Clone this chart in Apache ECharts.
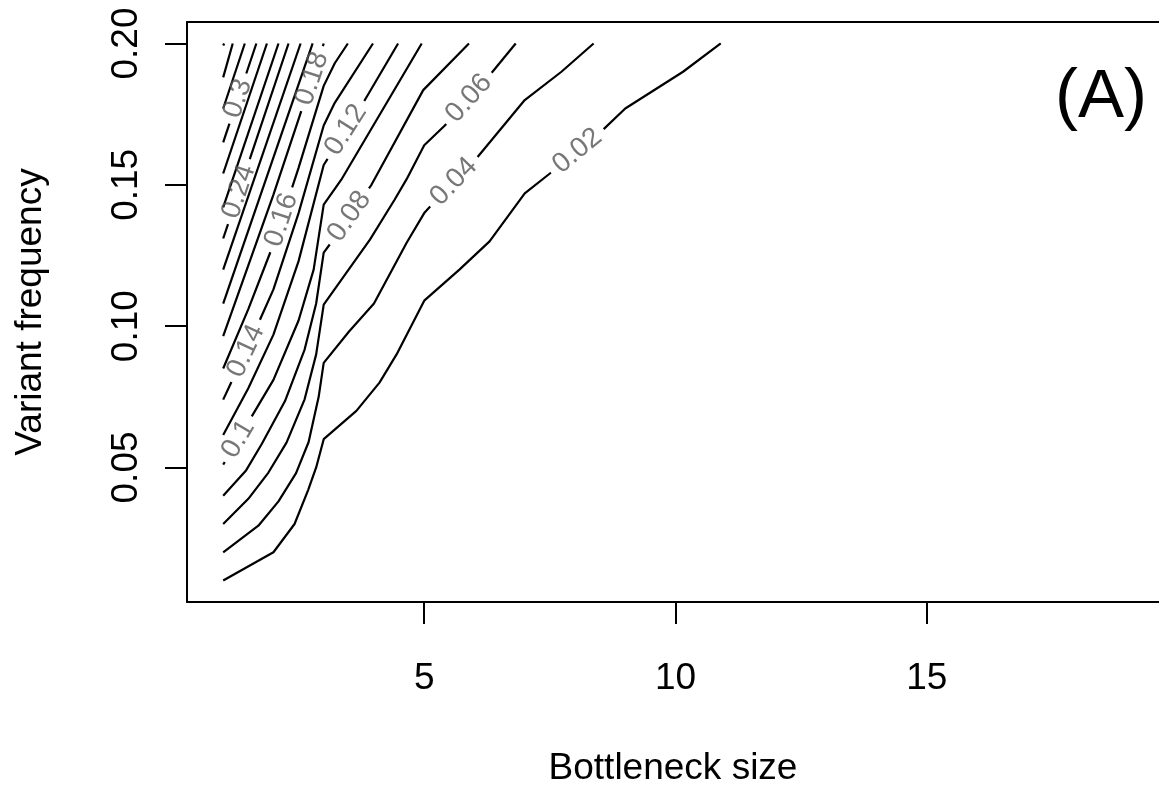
<!DOCTYPE html>
<html>
<head>
<meta charset="utf-8">
<script src="https://cdn.jsdelivr.net/npm/echarts@6/dist/echarts.min.js"></script>
<style>
  html, body { margin: 0; padding: 0; background: #fff; }
  #main { width: 1159px; height: 785px; }
</style>
</head>
<body>
<div id="main"></div>
<script>
// axis ranges (R pads the data range by 4%; the right part is cut off by the image edge)
var xRange = [0.28, 19.62];
var yRange = [0.0024, 0.2076];
var xTicks = [5, 10, 15];
var yTicks = [0.05, 0.10, 0.15, 0.20];

// contour levels and their polylines [bottleneck size, variant frequency]
var levels = [0.02, 0.04, 0.06, 0.08, 0.1, 0.12, 0.14, 0.16, 0.18, 0.2, 0.22, 0.24, 0.26, 0.28, 0.3, 0.32, 0.34, 0.36];
var c002 = [[1, 0.01], [2, 0.02], [2.42, 0.03], [2.69, 0.042], [2.85, 0.05], [3, 0.06], [3.65, 0.07], [4.11, 0.08], [4.45, 0.09], [5, 0.109], [5.7, 0.12], [6.3, 0.13], [7, 0.147], [7.5, 0.154], [8.59, 0.17], [9, 0.177], [10.15, 0.19], [10.9, 0.2]];
var c004 = [[1, 0.02], [1.7, 0.0294], [2.1, 0.038], [2.45, 0.048], [2.7, 0.059], [2.9, 0.075], [3, 0.087], [3.5, 0.098], [4, 0.108], [4.65, 0.1295], [5, 0.14], [5.1, 0.142], [6.07, 0.16], [7, 0.18], [7.73, 0.19], [8.37, 0.2]];
var c006 = [[1, 0.03], [1.5, 0.0389], [1.9, 0.0482], [2.26, 0.0588], [2.62, 0.0741], [2.85, 0.09], [3, 0.1076], [3.92, 0.1306], [4.41, 0.1447], [4.65, 0.152], [5, 0.164], [5.41, 0.171], [6.34, 0.1896], [6.82, 0.2]];
var c008 = [[1, 0.04], [1.45, 0.0488], [1.77, 0.0584], [2.23, 0.0735], [2.62, 0.0917], [2.85, 0.108], [3, 0.126], [3.15, 0.1296], [3.95, 0.15], [4.98, 0.1835], [5.89, 0.2]];
var c010 = [[1, 0.051], [1.3, 0.06], [2, 0.081], [2.5, 0.102], [2.8, 0.12], [3, 0.143], [3.35, 0.1518], [4.95, 0.2]];
var c012 = [[1, 0.0615], [1.5, 0.078], [2, 0.097], [2.5, 0.123], [3, 0.157], [3.82, 0.18], [4.48, 0.2]];
var c014 = [[1, 0.074], [1.5, 0.093], [2, 0.113], [2.5, 0.14], [3, 0.171], [3.22, 0.179], [3.98, 0.2]];
var c016 = [[1, 0.085], [1.5, 0.106], [2, 0.129], [2.5, 0.156], [3, 0.185], [3.22, 0.193], [3.48, 0.2]];
var c018 = [[1, 0.0965], [2, 0.1465], [3, 0.2]];
var c020 = [[1, 0.108], [2.78, 0.2]];
var c022 = [[1, 0.12], [2.54, 0.2]];
var c024 = [[1, 0.131], [2.3, 0.2]];
var c026 = [[1, 0.142], [2.1, 0.2]];
var c028 = [[1, 0.154], [1.87, 0.2]];
var c030 = [[1, 0.165], [1.66, 0.2]];
var c032 = [[1, 0.177], [1.43, 0.2]];
var c034 = [[1, 0.188], [1.19, 0.2]];
var c036 = [[1, 0.1993], [1.02, 0.2]];
var contours = [c002, c004, c006, c008, c010, c012, c014, c016, c018, c020, c022, c024, c026, c028, c030, c032, c034, c036];

// which levels carry a label, and the frequency where the label sits on the line
var labelLevels = [0.02, 0.04, 0.06, 0.08, 0.1, 0.12, 0.14, 0.16, 0.18, 0.24, 0.3];
var labelAt = [0.162, 0.1511, 0.1806, 0.1388, 0.06, 0.1694, 0.0912, 0.1376, 0.1876, 0.1476, 0.1805];

var FONT = 'Liberation Sans, Arial, Helvetica, sans-serif';
var LABEL_SIZE = 28;

var chart = echarts.init(document.getElementById('main'));

var frame = { show: true, onZero: false, lineStyle: { color: '#000', width: 2 } };

var option = {
  animation: false,
  grid: { left: 187, top: 22, right: 0, bottom: 183, show: false, outerBoundsMode: 'none', containLabel: false },
  xAxis: [{
    type: 'value', min: xRange[0], max: xRange[1],
    axisLine: frame,
    splitLine: { show: false },
    axisTick: { show: true, customValues: xTicks, length: 22, lineStyle: { color: '#000', width: 2 } },
    axisLabel: { customValues: xTicks, margin: 58, fontSize: 37, color: '#000', fontFamily: FONT },
    name: 'Bottleneck size', nameLocation: 'middle', nameGap: 148,
    nameTextStyle: { fontSize: 37, color: '#000', fontFamily: FONT }
  }, {
    // top side of the box
    type: 'value', position: 'top', min: xRange[0], max: xRange[1],
    axisLine: frame, axisTick: { show: false }, axisLabel: { show: false }, splitLine: { show: false }
  }],
  yAxis: {
    type: 'value', min: yRange[0], max: yRange[1],
    axisLine: frame,
    splitLine: { show: false },
    axisTick: { show: true, customValues: yTicks, length: 22, lineStyle: { color: '#000', width: 2 } },
    axisLabel: {
      customValues: yTicks, rotate: 90, margin: 42, fontSize: 37, color: '#000', fontFamily: FONT,
      formatter: function (v) { return v.toFixed(2); }
    },
    name: 'Variant frequency', nameLocation: 'middle', nameGap: 138,
    nameTextStyle: { fontSize: 37, color: '#000', fontFamily: FONT }
  },
  graphic: [{
    type: 'text', left: 1055, top: 63,
    style: { text: '(A)', fontSize: 69, fill: '#000', fontFamily: FONT }
  }],
  series: []
};
chart.setOption(option);

// measure label text so the line can be broken around it
var ctx = document.createElement('canvas').getContext('2d');
ctx.font = LABEL_SIZE + 'px ' + FONT;

function toPx(p) { return chart.convertToPixel({ gridIndex: 0 }, p); }
function toData(p) { return chart.convertFromPixel({ gridIndex: 0 }, p); }

function pointAt(px, cum, s) {
  for (var j = 0; j < px.length - 1; j++) {
    if (s <= cum[j + 1]) {
      var t = (s - cum[j]) / (cum[j + 1] - cum[j] || 1);
      return [px[j][0] + t * (px[j + 1][0] - px[j][0]), px[j][1] + t * (px[j + 1][1] - px[j][1])];
    }
  }
  return px[px.length - 1];
}

function lineSeries(pts) {
  return {
    type: 'line', data: pts, showSymbol: false, symbol: 'none', silent: true,
    lineStyle: { color: '#000', width: 2.2 }, z: 3
  };
}

var series = [];
var labelData = [];

levels.forEach(function (lv, i) {
  var pts = contours[i];
  var k = labelLevels.indexOf(lv);
  if (k < 0) { series.push(lineSeries(pts)); return; }

  var px = pts.map(toPx);
  var cum = [0];
  for (var j = 1; j < px.length; j++) {
    cum.push(cum[j - 1] + Math.hypot(px[j][0] - px[j - 1][0], px[j][1] - px[j - 1][1]));
  }
  var total = cum[cum.length - 1];

  // locate the label on the line
  var yv = labelAt[k], seg = 0, t = 0;
  for (j = 0; j < pts.length - 1; j++) {
    var a = pts[j][1], b = pts[j + 1][1];
    if ((yv - a) * (yv - b) <= 0 && a !== b) { seg = j; t = (yv - a) / (b - a); break; }
  }
  var s0 = cum[seg] + t * (cum[seg + 1] - cum[seg]);
  var c = pointAt(px, cum, s0);
  var ang = Math.atan2(-(px[seg + 1][1] - px[seg][1]), px[seg + 1][0] - px[seg][0]) * 180 / Math.PI;
  if (ang > 90) ang -= 180;
  if (ang < -90) ang += 180;

  var text = String(lv);
  var half = (ctx.measureText(text).width + 14) / 2;

  var before = [], after = [];
  if (s0 - half > 0) {
    for (j = 0; j < px.length && cum[j] < s0 - half; j++) before.push(px[j]);
    before.push(pointAt(px, cum, s0 - half));
  }
  if (s0 + half < total) {
    after.push(pointAt(px, cum, s0 + half));
    for (j = 0; j < px.length; j++) if (cum[j] > s0 + half) after.push(px[j]);
  }
  if (before.length > 1) series.push(lineSeries(before.map(toData)));
  if (after.length > 1) series.push(lineSeries(after.map(toData)));

  labelData.push({
    value: toData(c),
    label: { rotate: ang, formatter: text }
  });
});

series.push({
  type: 'scatter', data: labelData, symbolSize: 1, silent: true, z: 5,
  itemStyle: { color: 'rgba(0,0,0,0)' },
  label: {
    show: true, position: 'inside', fontSize: LABEL_SIZE, color: '#555', fontFamily: FONT
  }
});

chart.setOption({ series: series });
window.addEventListener('resize', function () { chart.resize(); });
</script>
</body>
</html>
